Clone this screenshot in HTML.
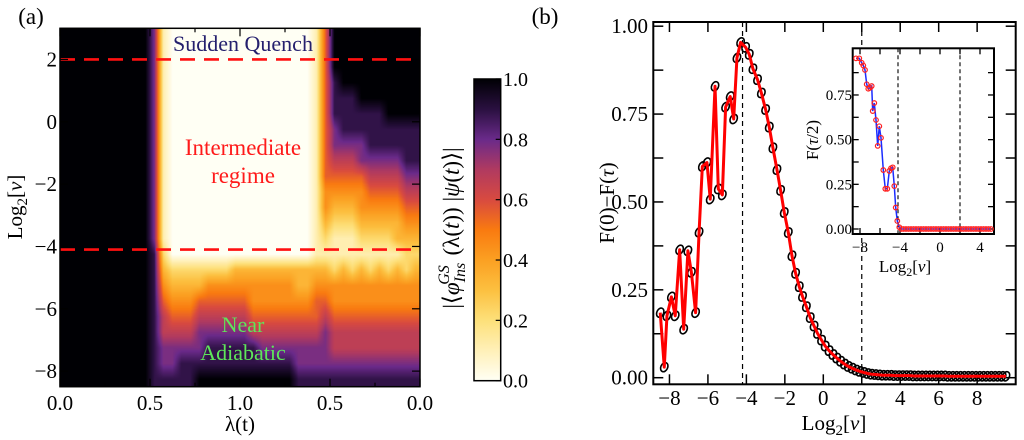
<!DOCTYPE html>
<html><head><meta charset="utf-8">
<style>
html,body{margin:0;padding:0;background:#fff;}
#wrap{position:relative;width:1024px;height:440px;overflow:hidden;font-family:"Liberation Serif",Times,"Times New Roman",serif;}
canvas{position:absolute;left:0;top:0;}
svg{position:absolute;left:0;top:0;font-family:"Liberation Serif",Times,"Times New Roman",serif;}
svg text{font-family:"Liberation Serif",Times,"Times New Roman",serif !important;}
</style></head>
<body>
<div id="wrap">
<canvas id="heat" width="1024" height="440"></canvas>
<svg id="fig" width="1024" height="440" viewBox="0 0 1024 440"></svg>
</div>
<script>
// ---------- Panel (a) heatmap data: rows from log2(nu)=3 down to -8.5 (step 0.5), 40 columns t in [0,2]; digit d -> value d/9
const heatRows = [
"999999999971"+"0000000000000000"+"15"+"9999999999",
"999999999971"+"0000000000000000"+"15"+"9999999999",
"999999999971"+"0000000000000000"+"15"+"9999999999",
"999999999971"+"0000000000000000"+"15"+"8999999999",
"999999999971"+"0000000000000000"+"15"+"8889999999",
"999999999971"+"0000000000000000"+"15"+"8888889999",
"999999999971"+"0000000000000000"+"15"+"7888888888",
"999999999971"+"0000000000000000"+"15"+"7777888888",
"999999999971"+"0000000000000000"+"15"+"6667777788",
"999999999971"+"0000000000000000"+"15"+"5555666677",
"999999999971"+"0000000000000000"+"14"+"4444555566",
"999999999971"+"0000000000000000"+"14"+"3334444455",
"999999999971"+"0000000000000000"+"13"+"2223333344",
"999999999971"+"0000000000000000"+"12"+"1112222333",
"999999999982"+"0000000000000000"+"11"+"1111111122",
"999999999983"+"2222222333333333"+"33"+"2323232323",
"999999999984"+"3333444444444433"+"44"+"4444444444",
"999999999985"+"4445555554444444"+"55"+"4444444444",
"999999999986"+"5556666665555555"+"56"+"5555555555",
"999999999986"+"6667777776666666"+"67"+"6666666666",
"999999999987"+"7777888888777777"+"77"+"6666666666",
"999999999987"+"7888888888888877"+"77"+"7777777777",
"999999999988"+"8889999999999988"+"88"+"8888888888"
];
const cmapVals = [0,0.1,0.2,0.3,0.4,0.5,0.6,0.7,0.8,0.9,1.0];
const cmapCols = ["#fffff4","#fff0b8","#fde07a","#fcc040","#fba022","#f97a10","#d84a40","#b03a60","#6a2a8a","#2a1040","#000004"];
const yTicksA = [2,0,-2,-4,-6,-8];
const xTickLabelsA = ["0.0","0.5","1.0","0.5","0.0"];
const cbTicks = [0,0.2,0.4,0.6,0.8,1.0];
const dashedA = [2,-4.1];

// ---------- Panel (b) data
const mainX = [-8.48,-8.27,-8.13,-7.9,-7.7,-7.47,-7.26,-7.04,-6.86,-6.64,-6.46,-6.29,-6.05,-5.88,-5.63,-5.46,-5.25,-5.08,-4.84,-4.66,-4.49,-4.30,-4.04,-3.85,-3.66,-3.42,-3.22,-3.0,-2.81,-2.62,-2.41,-2.22,-2.03,-1.82,-1.63,-1.44,-1.25,-1.08,-0.88,-0.68,-0.48,-0.30,-0.09,0.1,0.3,0.5,0.7,0.9,1.1,1.3,1.5,1.7,1.9,2.1,2.3,2.5,2.7,2.9,3.1,3.3,3.5,3.7,3.9,4.1,4.3,4.5,4.7,4.9,5.1,5.3,5.5,5.7,5.9,6.1,6.3,6.5,6.7,6.9,7.1,7.3,7.5,7.7,7.9,8.1,8.3,8.5,8.7,8.9,9.1,9.3,9.5];
const mainY = [0.185,0.03,0.176,0.23,0.176,0.364,0.138,0.361,0.30,0.185,0.414,0.601,0.612,0.508,0.829,0.537,0.52,0.77,0.80,0.736,0.91,0.954,0.94,0.92,0.879,0.848,0.81,0.763,0.713,0.654,0.592,0.533,0.47,0.413,0.347,0.297,0.259,0.231,0.202,0.171,0.147,0.126,0.107,0.09,0.077,0.066,0.056,0.047,0.039,0.032,0.027,0.022,0.018,0.015,0.012,0.010,0.009,0.008,0.007,0.007,0.007,0.006,0.006,0.006,0.006,0.006,0.005,0.005,0.005,0.005,0.005,0.005,0.005,0.005,0.005,0.004,0.004,0.004,0.004,0.004,0.004,0.004,0.004,0.004,0.004,0.004,0.004,0.004,0.004,0.004,0.004];
const xTicksB = [-8,-6,-4,-2,0,2,4,6,8];
const yTicksB = [0,0.25,0.5,0.75,1.0];
const yTickLabelsB = ["0.00","0.25","0.50","0.75","1.00"];
const dashedB = [-4.2,2];

const insetX = [-8.4,-8.07,-7.83,-7.67,-7.5,-7.33,-7.17,-7.0,-6.83,-6.73,-6.57,-6.4,-6.23,-6.07,-5.9,-5.67,-5.47,-5.27,-5.07,-4.9,-4.73,-4.57,-4.43,-4.27,-4.07,-3.87,-3.65,-3.4,-3.15,-2.9,-2.65,-2.4,-2.15,-1.9,-1.65,-1.4,-1.15,-0.9,-0.65,-0.4,-0.15,0.1,0.35,0.6,0.85,1.1,1.35,1.6,1.85,2.1,2.35,2.6,2.85,3.1,3.35,3.6,3.85,4.1,4.35,4.6,4.85,5.1];
const insetY = [0.955,0.955,0.93,0.915,0.89,0.81,0.785,0.79,0.80,0.66,0.705,0.61,0.465,0.575,0.51,0.33,0.225,0.225,0.325,0.34,0.345,0.24,0.12,0.045,0.01,0.0,0,0,0,0,0,0,0,0,0,0,0,0,0,0,0,0,0,0,0,0,0,0,0,0,0,0,0,0,0,0,0,0,0,0,0,0];
const xTicksIn = [-8,-4,0,4];
const yTicksIn = [0,0.25,0.5,0.75];
const yTickLabelsIn = ["0.00","0.25","0.50","0.75"];
const dashedIn = [-4.2,2];

// ---------- scales
const A = {l:60,r:420,t:28.3,b:386.7,y0:3,y1:-8.5};
const ayA = v => A.t + (A.y0 - v)/(A.y0 - A.y1)*(A.b - A.t);
const axA = t => A.l + t/2*(A.r - A.l);
const B = {l:653.3,r:1015.7,t:22,b:384.3};
const bx = v => 823.3 + v*19.23;
const by = v => 377.7 - v*351.5;
const I = {l:852.7,r:994,t:48.3,b:234};
const ix = v => 940 + v*10;
const iy = v => 229 - v*178.7;
const CB = {l:474,r:500.7,t:79,b:380.7};
const cby = v => CB.b - v*(CB.b-CB.t);
const FONT = '"Liberation Serif", Times, "Times New Roman", serif';

function hex(c){return [parseInt(c.substr(1,2),16),parseInt(c.substr(3,2),16),parseInt(c.substr(5,2),16)];}
function cmap(v){
  for(let i=0;i<cmapVals.length-1;i++){
    if(v<=cmapVals[i+1]){
      const f=(v-cmapVals[i])/(cmapVals[i+1]-cmapVals[i]);
      const a=hex(cmapCols[i]),b=hex(cmapCols[i+1]);
      return [0,1,2].map(k=>Math.round(a[k]+(b[k]-a[k])*f));
    }
  }
  return hex(cmapCols[cmapCols.length-1]);
}

(function(){
  const nr=heatRows.length, nc=heatRows[0].length;
  const ctx=document.getElementById('heat').getContext('2d');
  const x0=Math.round(axA(0)), x1=Math.round(axA(2)), y0=Math.round(ayA(A.y0)), y1=Math.round(ayA(A.y1));
  const W=x1-x0, H=y1-y0;
  const img=ctx.createImageData(W,H);
  const val=(r,c)=>parseInt(heatRows[Math.max(0,Math.min(nr-1,r))][Math.max(0,Math.min(nc-1,c))])/9;
  for(let py=0;py<H;py++){
    const fr=(py+0.5)/H*nr-0.5, r0=Math.floor(fr), ar=fr-r0;
    for(let px=0;px<W;px++){
      const fc=(px+0.5)/W*nc-0.5, c0=Math.floor(fc), ac=fc-c0;
      const v=(val(r0,c0)*(1-ac)+val(r0,c0+1)*ac)*(1-ar)+(val(r0+1,c0)*(1-ac)+val(r0+1,c0+1)*ac)*ar;
      const col=cmap(v); const p=(py*W+px)*4;
      img.data[p]=col[0];img.data[p+1]=col[1];img.data[p+2]=col[2];img.data[p+3]=255;
    }
  }
  ctx.putImageData(img,x0,y0);
})();

const NS='http://www.w3.org/2000/svg';
const svg=document.getElementById('fig');
function mk(tag,attrs,parent){const e=document.createElementNS(NS,tag);for(const k in attrs)e.setAttribute(k,attrs[k]);(parent||svg).appendChild(e);return e;}
function txt(s,x,y,size,anchor,fill,parent){const e=mk('text',{x:x,y:y,'font-size':size,'text-anchor':anchor||'middle',fill:fill||'#000','font-family':FONT},parent);e.textContent=s;return e;}

let e;
for(const d of dashedA){
  e=mk('line',{x1:A.l,x2:A.r,y1:ayA(d),y2:ayA(d),stroke:'#ff1010','stroke-width':2.6,'stroke-dasharray':'15,9'});
  
  
}
e=txt('Sudden Quench',243,51,22,'middle','#25206e');


e=txt('Intermediate',243,155,23,'middle','#ff1a1a');


e=txt('regime',243,183,23,'middle','#ff1a1a');


e=txt('Near',243,332,22,'middle','#5ee65a');


e=txt('Adiabatic',243,360,22,'middle','#5ee65a');


e=mk('rect',{x:A.l,y:A.t,width:A.r-A.l,height:A.b-A.t,fill:'none',stroke:'#000','stroke-width':1.5});


for(let i=0;i<=8;i++){
  const x=axA(i*0.25), len=(i%2==0)?8:4;
  mk('line',{x1:x,x2:x,y1:A.b,y2:A.b-len,stroke:'#000','stroke-width':1.2});
  mk('line',{x1:x,x2:x,y1:A.t,y2:A.t+len,stroke:'#000','stroke-width':1.2});
}
xTickLabelsA.forEach((s,i)=>{e=txt(s,axA(i*0.5),410,21);
  
  });
for(const v of yTicksA){
  mk('line',{x1:A.l,x2:A.l+8,y1:ayA(v),y2:ayA(v),stroke:'#000','stroke-width':1.2});
  mk('line',{x1:A.r,x2:A.r-8,y1:ayA(v),y2:ayA(v),stroke:'#000','stroke-width':1.2});
  e=txt(String(v).replace('-','\u2212'),57,ayA(v)+7,21,'end');
  
  
}
e=txt('(a)',31,24,23);


e=txt('λ(t)',240,431,21);


e=mk('text',{x:0,y:0,'font-size':21,'text-anchor':'middle','font-family':FONT,transform:'translate(22,207) rotate(-90)'});
e.innerHTML='Log<tspan font-size="15" dy="5">2</tspan><tspan dy="-5">[</tspan><tspan font-style="italic">ν</tspan>]';



const defs=mk('defs',{});
const grad=mk('linearGradient',{id:'cbg',x1:0,y1:1,x2:0,y2:0},defs);
cmapVals.forEach((v,i)=>mk('stop',{offset:v,'stop-color':cmapCols[i]},grad));
e=mk('rect',{x:CB.l,y:CB.t,width:CB.r-CB.l,height:CB.b-CB.t,fill:'url(#cbg)',stroke:'#000','stroke-width':1.5});


for(const v of cbTicks){
  mk('line',{x1:CB.r,x2:CB.r-5,y1:cby(v),y2:cby(v),stroke:'#000','stroke-width':1.2});
  e=txt(v.toFixed(1),503,cby(v)+7,20,'start');
  
  
}
e=mk('text',{x:0,y:0,'font-size':23,'text-anchor':'middle','font-family':FONT,transform:'translate(459,228) rotate(-90)'});
e.innerHTML='|⟨<tspan font-style="italic">φ</tspan><tspan font-size="16" font-style="italic" dy="6">Ins</tspan><tspan font-size="16" font-style="italic" dx="-22" dy="-16">GS</tspan><tspan dy="10" dx="4"> (λ(</tspan><tspan font-style="italic">t</tspan>)) |<tspan font-style="italic">ψ</tspan>(<tspan font-style="italic">t</tspan>)⟩|';



e=mk('rect',{x:B.l,y:B.t,width:B.r-B.l,height:B.b-B.t,fill:'#fff',stroke:'#000','stroke-width':2});


for(const d of dashedB){
  e=mk('line',{x1:bx(d),x2:bx(d),y1:B.t,y2:B.b,stroke:'#000','stroke-width':1.2,'stroke-dasharray':'5,4'});
  
  
}
for(const v of xTicksB){
  mk('line',{x1:bx(v),x2:bx(v),y1:B.b,y2:B.b-10,stroke:'#000','stroke-width':1.5});
  mk('line',{x1:bx(v),x2:bx(v),y1:B.t,y2:B.t+10,stroke:'#000','stroke-width':1.5});
  e=txt(String(v).replace('-','\u2212'),bx(v),405,21);
  
  
}
for(let k=0;k<=8;k++){
  const v=k*0.125;
  mk('line',{x1:B.l,x2:B.l+10,y1:by(v),y2:by(v),stroke:'#000','stroke-width':1.5});
  mk('line',{x1:B.r,x2:B.r-10,y1:by(v),y2:by(v),stroke:'#000','stroke-width':1.5});
}
yTicksB.forEach((v,i)=>{e=txt(yTickLabelsB[i],648,by(v)+7,21,'end');
  
  });
const gM=mk('g',{});


mainX.forEach((x,i)=>{
  const m=mk('ellipse',{cx:bx(x),cy:by(mainY[i]),rx:3.4,ry:4.8,fill:'none',stroke:'#000','stroke-width':1.6,transform:`rotate(25 ${bx(x)} ${by(mainY[i])})`},gM);
  
  
});
e=mk('polyline',{points:mainX.map((x,i)=>bx(x)+','+by(mainY[i])).join(' '),fill:'none',stroke:'#ff0000','stroke-width':3,'stroke-linejoin':'round'});


e=txt('(b)',545,24,23);


e=mk('text',{x:0,y:0,'font-size':21,'text-anchor':'middle','font-family':FONT,transform:'translate(614,203) rotate(-90)'});
e.innerHTML='F(0)−F(<tspan font-style="italic">τ</tspan>)';


e=mk('text',{x:834,y:430,'font-size':21,'text-anchor':'middle','font-family':FONT});
e.innerHTML='Log<tspan font-size="15" dy="5">2</tspan><tspan dy="-5">[</tspan><tspan font-style="italic">ν</tspan>]';



e=mk('rect',{x:I.l,y:I.t,width:I.r-I.l,height:I.b-I.t,fill:'#fff',stroke:'#000','stroke-width':2});


for(const d of dashedIn){
  e=mk('line',{x1:ix(d),x2:ix(d),y1:I.t,y2:I.b,stroke:'#000','stroke-width':1.1,'stroke-dasharray':'4,3'});
  
  
}
for(let v=-8;v<=4;v+=2){
  mk('line',{x1:ix(v),x2:ix(v),y1:I.b,y2:I.b-6,stroke:'#000','stroke-width':1.3});
  mk('line',{x1:ix(v),x2:ix(v),y1:I.t,y2:I.t+6,stroke:'#000','stroke-width':1.3});
}
for(const v of xTicksIn){e=txt(String(v).replace('-','\u2212'),ix(v),252,15);
  
  }
for(let k=0;k<=7;k++){
  const v=k*0.125;
  mk('line',{x1:I.l,x2:I.l+6,y1:iy(v),y2:iy(v),stroke:'#000','stroke-width':1.3});
  mk('line',{x1:I.r,x2:I.r-6,y1:iy(v),y2:iy(v),stroke:'#000','stroke-width':1.3});
}
yTicksIn.forEach((v,i)=>{e=txt(yTickLabelsIn[i],852,iy(v)+5,15,'end');
  
  });
e=mk('polyline',{points:insetX.map((x,i)=>ix(x)+','+iy(insetY[i])).join(' '),fill:'none',stroke:'#1a2cff','stroke-width':1.5});


insetX.forEach((x,i)=>{
  const m=mk('circle',{cx:ix(x),cy:iy(insetY[i]),r:2.3,fill:'none',stroke:'#ff2020','stroke-width':1.2});
  
  
});
e=mk('text',{x:0,y:0,'font-size':17,'text-anchor':'middle','font-family':FONT,transform:'translate(818,140) rotate(-90)'});
e.innerHTML='F(<tspan font-style="italic">τ</tspan>/2)';


e=mk('text',{x:905,y:272,'font-size':17,'text-anchor':'middle','font-family':FONT});
e.innerHTML='Log<tspan font-size="12" dy="4">2</tspan><tspan dy="-4">[</tspan><tspan font-style="italic">ν</tspan>]';


</script>
</body></html>
